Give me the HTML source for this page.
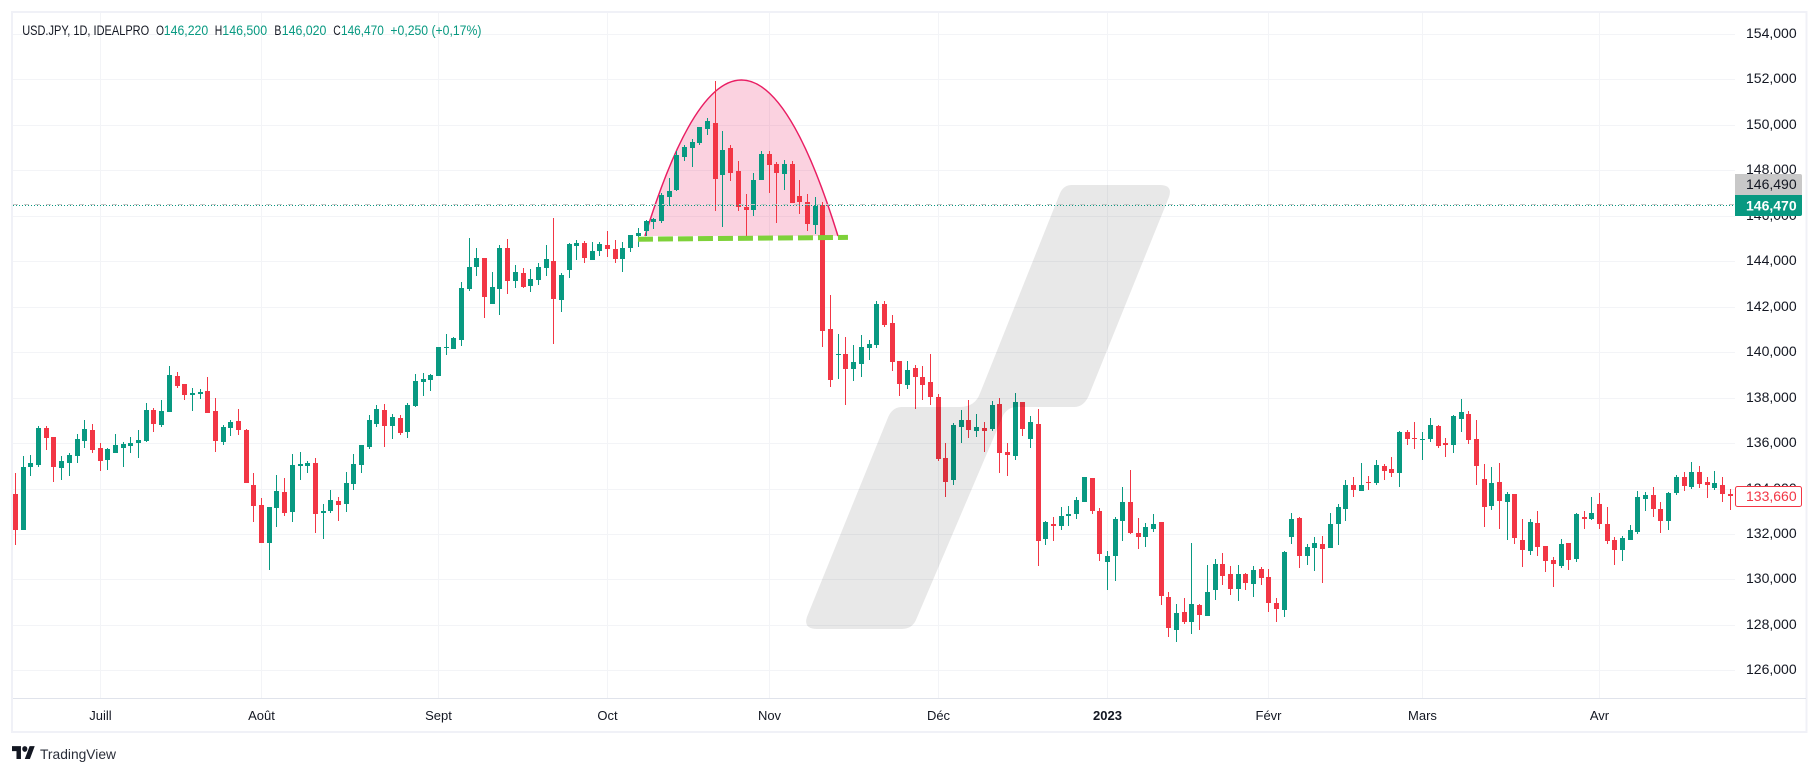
<!DOCTYPE html>
<html lang="fr">
<head>
<meta charset="utf-8">
<title>USD.JPY 1D chart</title>
<style>
html,body{margin:0;padding:0;background:#fff;width:1819px;height:774px;overflow:hidden}
svg{position:absolute;left:0;top:0;display:block;font-family:"Liberation Sans",sans-serif}
</style>
</head>
<body>
<svg id="chart" width="1819" height="774" viewBox="0 0 1819 774" xmlns="http://www.w3.org/2000/svg">
  <rect x="0" y="0" width="1819" height="774" fill="#ffffff"/>
  <g id="grid"></g>
  <g id="pattern"></g>
  <g id="candles"></g>
  <g id="watermark">
    <path fill="#000000" fill-opacity="0.09" d="M1072 185 L1160 185 Q1173 185 1169 197 L1088.3 396.7 Q1083.3 407 1074 407 L1016.7 407 Q1008.3 407 1003.3 415 L916.7 618.3 Q912.7 629 902 629 L817 629 Q803 629 807 616.7 L888.3 416.7 Q892.7 407 902 407 L960 407 Q975 407 980 393.3 L1060 193.3 Q1063.3 185 1072 185 Z"/>
  </g>
  <g id="overlays"></g>
  <rect x="12" y="12" width="1794.5" height="720" fill="none" stroke="#f0f1f7" stroke-width="2"/>
  <rect x="13" y="698" width="1793" height="1" fill="#e0e3eb"/>
  <g id="price-axis"></g>
  <g id="time-axis"></g>

  <g>
    <path d="M1735 174 H1800 Q1802 174 1802 176 V195 H1735 Z" fill="#c8c8c8"/>
    <text x="1746" y="189" font-size="14" fill="#131722">146,490</text>
    <path d="M1735 195 H1802 V214 Q1802 216 1800 216 H1735 Z" fill="#089981"/>
    <text x="1746" y="210.5" font-size="14" font-weight="bold" fill="#ffffff">146,470</text>
    <rect x="1735.5" y="486.5" width="66" height="20" rx="2" fill="#ffffff" stroke="#f23645" stroke-width="1"/>
    <text x="1746" y="501" font-size="14" fill="#f23645">133,660</text>
  </g>

  <g font-size="13.5">
    <text x="22.2" y="35" fill="#131722" textLength="127" lengthAdjust="spacingAndGlyphs">USD.JPY, 1D, IDEALPRO</text>
    <text x="156" y="35" fill="#131722" textLength="8" lengthAdjust="spacingAndGlyphs">O</text>
    <text x="163.8" y="35" fill="#089981" textLength="44.4" lengthAdjust="spacingAndGlyphs">146,220</text>
    <text x="214.7" y="35" fill="#131722" textLength="7.5" lengthAdjust="spacingAndGlyphs">H</text>
    <text x="222.3" y="35" fill="#089981" textLength="44.8" lengthAdjust="spacingAndGlyphs">146,500</text>
    <text x="274.4" y="35" fill="#131722" textLength="7" lengthAdjust="spacingAndGlyphs">B</text>
    <text x="281.7" y="35" fill="#089981" textLength="44.7" lengthAdjust="spacingAndGlyphs">146,020</text>
    <text x="333.3" y="35" fill="#131722" textLength="7.5" lengthAdjust="spacingAndGlyphs">C</text>
    <text x="341" y="35" fill="#089981" textLength="42.8" lengthAdjust="spacingAndGlyphs">146,470</text>
    <text x="390.4" y="35" fill="#089981" textLength="91" lengthAdjust="spacingAndGlyphs">+0,250 (+0,17%)</text>
  </g>

  <g>
    <g transform="translate(12 743.2) scale(0.64 0.72)" fill="#131722">
      <path d="M14 22H7V11H0V4h14v18z"/>
      <path d="M28 22h-8l7.5-18h8L28 22z"/>
      <circle cx="20" cy="8" r="4"/>
    </g>
    <text x="40" y="759" font-size="14" fill="#2a2e39" textLength="76" lengthAdjust="spacingAndGlyphs">TradingView</text>
  </g>
</svg>

<script>
const priceTicks = [154,152,150,148,146,144,142,140,138,136,134,132,130,128,126];
const priceTickLabels = ["154,000","152,000","150,000","148,000","146,000","144,000","142,000","140,000","138,000","136,000","134,000","132,000","130,000","128,000","126,000"];
const monthLabels = ["Juill","Août","Sept","Oct","Nov","Déc","2023","Févr","Mars","Avr"];
const monthBarIndexes = [11,32,55,77,98,120,142,163,183,206];
const lastClose = 146.47;
const previousClose = 146.49;
const domeBars = [81.86,94.4,106.96];
const domePrices = [145.11,158.84,145.11];
const trendBars = [80.95,108.26];
const trendPrices = [144.97,145.05];

const opens = [
133.76,132.17,134.95,135.03,136.66,136.27,134.90,135.12,135.43,136.09,
136.57,135.78,135.25,135.56,135.78,135.87,136.00,136.09,137.45,136.79,
137.37,138.95,138.60,138.11,138.16,138.29,137.41,136.05,136.66,136.97,
136.57,134.15,133.27,131.60,133.14,133.85,132.97,134.99,134.99,135.12,
132.92,133.01,133.45,133.32,134.20,135.03,135.83,136.84,137.45,136.75,
137.10,136.49,137.63,138.69,138.78,138.95,140.18,140.14,140.53,142.78,
143.75,144.14,142.12,142.78,144.58,143.13,143.48,142.91,143.18,143.70,
144.01,142.30,143.62,144.67,144.80,144.06,144.45,144.71,144.54,144.10,
144.58,145.11,145.33,145.73,145.77,146.83,147.14,148.59,148.98,149.20,
149.82,150.08,147.80,148.98,147.97,146.39,146.26,147.58,148.72,148.28,
147.84,148.28,146.87,146.61,145.60,146.48,141.02,139.87,139.92,139.26,
139.48,140.18,140.31,142.12,141.28,139.61,138.55,139.30,138.91,138.69,
138.03,135.34,134.37,136.71,137.01,136.53,136.66,136.62,137.72,135.61,
135.43,137.81,136.18,136.84,131.78,132.44,132.35,132.79,132.88,133.41,
134.46,133.01,130.77,131.03,132.57,133.41,132.04,131.87,132.22,132.53,
129.23,127.77,128.57,128.13,128.87,128.39,129.53,130.68,130.24,129.58,
130.24,129.80,130.46,130.10,128.96,128.65,131.87,132.70,131.03,131.38,
131.56,131.38,132.44,133.10,134.15,133.89,134.29,134.24,134.99,134.86,
134.68,136.49,136.22,136.13,136.18,136.75,136.00,135.91,137.06,137.28,
136.18,134.42,133.23,134.29,133.41,133.76,131.73,131.25,132.48,131.47,
130.85,130.59,131.60,130.90,132.75,132.66,133.32,132.44,131.73,131.29,
131.73,132.09,133.54,133.71,133.10,132.57,133.80,134.51,134.07,134.73,
134.29,134.02,134.15,133.76];

const highs = [
134.68,135.43,135.47,136.75,136.75,136.27,135.43,135.56,136.40,137.01,
136.84,136.00,135.78,136.40,136.05,136.27,136.57,137.76,137.54,137.89,
139.39,139.13,138.60,138.42,138.38,138.91,137.98,136.79,137.01,137.50,
136.62,134.68,133.58,133.19,134.59,134.46,135.52,135.61,135.21,135.34,
133.32,133.93,133.63,134.73,135.52,135.91,137.23,137.67,137.72,137.28,
137.23,137.76,139.04,139.08,139.04,140.23,140.80,140.67,143.09,145.02,
144.58,144.14,143.53,144.71,144.98,143.83,143.70,143.66,143.92,144.71,
145.90,143.48,144.80,144.94,144.89,144.85,144.85,145.33,144.94,144.85,
145.16,145.46,145.81,145.90,147.00,147.66,148.85,149.12,149.38,149.91,
150.30,151.93,149.73,149.12,148.41,146.96,147.88,148.85,148.85,148.37,
148.46,148.41,147.58,146.96,146.83,146.61,142.51,140.80,140.67,140.31,
140.75,140.53,142.25,142.25,141.63,139.61,139.61,139.43,139.39,139.92,
138.16,136.00,136.88,137.45,137.89,137.28,136.93,137.85,137.98,136.00,
138.20,137.81,137.19,137.50,132.57,132.75,133.19,133.23,133.63,134.51,
134.46,133.14,131.25,132.75,134.07,134.81,132.70,132.48,132.88,132.53,
129.45,128.92,129.18,131.60,128.92,130.63,130.90,131.16,130.59,130.63,
130.28,130.59,130.54,130.46,129.18,131.25,132.92,132.75,131.56,131.87,
131.91,132.92,133.32,134.37,134.51,135.12,134.55,135.25,135.08,135.39,
136.53,136.57,136.93,136.49,137.10,136.79,136.22,137.23,137.94,137.41,
137.01,135.08,134.95,135.12,133.85,133.76,132.66,132.66,133.01,131.47,
130.99,131.78,131.60,132.92,133.01,133.63,133.80,133.19,131.87,131.91,
132.39,133.89,133.85,134.07,133.41,133.85,134.59,134.73,135.17,134.99,
134.51,134.77,134.51,133.98];

const lows = [
131.51,132.17,134.55,134.95,135.69,134.29,134.37,134.55,135.12,135.78,
135.56,134.77,134.81,135.56,134.95,135.56,135.34,136.05,136.49,136.71,
137.37,138.42,137.89,137.41,137.94,137.32,135.61,135.91,136.31,136.35,
134.24,132.53,131.60,130.41,132.31,132.79,132.53,134.37,134.68,132.04,
131.78,132.92,132.57,132.97,133.93,134.68,135.74,136.71,135.83,136.18,
136.35,136.22,137.59,138.07,138.29,138.95,139.87,140.14,140.27,142.69,
143.35,141.50,142.12,141.63,142.56,142.82,142.82,142.65,142.96,143.35,
140.36,141.77,143.26,144.06,143.92,144.06,144.23,144.19,143.92,143.53,
144.41,144.63,145.11,145.42,145.68,146.43,147.09,148.41,148.15,149.12,
149.56,146.21,145.51,147.53,146.21,145.11,145.99,147.58,147.00,145.68,
147.14,146.56,146.08,145.33,145.20,140.23,138.47,138.82,137.67,138.73,
138.91,139.65,140.18,141.11,139.17,138.07,138.38,137.50,137.89,137.67,
135.21,133.63,134.15,136.00,136.22,136.27,135.61,136.53,134.68,134.55,
135.25,136.31,135.78,130.59,131.51,131.69,132.17,132.35,132.66,133.41,
132.88,130.81,129.53,129.93,131.69,132.00,131.34,131.43,132.09,128.87,
127.47,127.25,128.04,127.60,127.77,128.39,129.09,129.75,129.31,129.05,
129.53,129.23,129.75,128.57,128.13,128.35,131.56,130.50,130.63,130.37,
129.84,131.38,131.51,132.57,133.63,133.89,133.93,134.15,134.37,134.51,
134.07,135.91,135.74,135.25,136.05,135.78,135.39,135.56,136.49,135.96,
134.15,132.31,133.05,132.22,131.73,131.56,130.55,131.07,131.03,130.33,
129.67,130.50,130.41,130.77,132.22,132.61,132.22,131.56,130.63,130.81,
131.73,132.00,133.01,132.75,132.04,132.17,133.71,133.89,133.98,134.02,
133.58,133.93,133.41,133.05];

const closes = [
132.17,134.95,135.12,136.66,136.22,134.95,135.21,135.47,136.18,136.62,
135.69,135.21,135.74,135.91,135.96,136.00,136.13,137.45,136.84,137.41,
138.99,138.51,138.11,138.20,138.25,137.32,136.09,136.71,136.93,136.57,
134.24,133.23,131.60,133.19,133.89,132.92,135.03,135.09,135.12,132.88,
133.01,133.49,133.27,134.24,135.08,135.91,137.01,137.50,136.75,137.15,
136.44,137.67,138.73,138.82,138.99,140.23,140.23,140.62,142.82,143.75,
144.14,142.43,142.87,144.58,143.13,143.53,142.87,143.22,143.75,144.10,
142.34,143.40,144.76,144.80,144.14,144.45,144.76,144.54,144.10,144.58,
145.16,145.24,145.77,145.86,146.92,147.09,148.68,149.03,149.25,149.91,
150.17,147.62,148.90,147.88,146.39,146.26,147.58,148.72,148.24,147.88,
148.28,146.56,146.61,145.64,146.43,140.93,138.77,139.92,139.26,139.57,
140.23,140.36,142.12,141.19,139.57,138.60,139.21,138.91,138.55,138.03,
135.30,134.29,136.79,137.01,136.57,136.71,136.53,137.67,135.56,135.47,
137.81,136.62,136.93,131.69,132.53,132.35,132.79,132.88,133.49,134.51,
133.01,131.12,131.03,132.66,133.41,132.04,131.87,132.31,132.44,129.27,
127.86,128.52,128.13,128.92,128.43,129.45,130.68,130.15,129.58,130.24,
129.84,130.41,130.06,128.96,128.70,131.21,132.66,131.03,131.43,131.60,
131.34,132.44,133.19,134.15,133.93,134.15,134.24,135.03,134.77,134.68,
136.49,136.18,136.18,136.18,136.79,135.87,135.91,137.19,137.37,136.13,
134.99,133.19,134.24,133.45,133.76,131.82,131.29,132.53,131.43,130.81,
130.68,131.56,130.85,132.88,132.66,132.92,132.44,131.69,131.29,131.82,
132.17,133.63,133.71,133.10,132.57,133.80,134.51,134.11,134.73,134.20,
134.15,134.24,133.76,133.66];

const SVG_NS = 'http://www.w3.org/2000/svg';
const UP_COLOR = '#089981';
const DOWN_COLOR = '#f23645';

function barX(i) { return 15.55 + i * 7.689; }
function priceY(p) { return 34 + (154 - p) * 22.725; }

function make(tag, attrs, parent) {
  const el = document.createElementNS(SVG_NS, tag);
  for (const k in attrs) el.setAttribute(k, attrs[k]);
  parent.appendChild(el);
  return el;
}

const gridLayer = document.getElementById('grid');
const patternLayer = document.getElementById('pattern');
const candleLayer = document.getElementById('candles');
const overlayLayer = document.getElementById('overlays');
const priceAxisLayer = document.getElementById('price-axis');
const timeAxisLayer = document.getElementById('time-axis');

priceTicks.forEach(function (p, i) {
  const y = Math.round(priceY(p));
  const line = make('rect', {x: 13, y: y, width: 1722, height: 1, fill: '#f3f4f7'}, gridLayer);
  
  
  const label = make('text', {x: 1746, y: y + 4, 'font-size': 14, fill: '#131722'}, priceAxisLayer);
  label.textContent = priceTickLabels[i];
  
  
});

monthBarIndexes.forEach(function (idx, i) {
  const x = Math.round(barX(idx) - 0.5);
  const line = make('rect', {x: x, y: 13, width: 1, height: 685, fill: '#f3f4f7'}, gridLayer);
  
  
  const isYear = monthLabels[i] === '2023';
  const label = make('text', {x: x + 0.5, y: 720, 'font-size': 13, 'text-anchor': 'middle', fill: '#131722', 'font-weight': isYear ? 'bold' : 'normal'}, timeAxisLayer);
  label.textContent = monthLabels[i];
  
  
});

const domeX0 = barX(domeBars[0]), domeX1 = barX(domeBars[1]), domeX2 = barX(domeBars[2]);
const domeY0 = priceY(domePrices[0]), domeY1 = priceY(domePrices[1]), domeY2 = priceY(domePrices[2]);
const domePath = 'M' + domeX0 + ' ' + domeY0 + ' Q' + domeX1 + ' ' + domeY1 + ' ' + domeX2 + ' ' + domeY2;
const domeFill = make('path', {d: domePath + ' Z', fill: '#e91e63', 'fill-opacity': 0.2, stroke: 'none'}, patternLayer);


const domeStroke = make('path', {d: domePath, fill: 'none', stroke: '#e91e63', 'stroke-width': 1.5}, patternLayer);



opens.forEach(function (o, i) {
  const c = closes[i];
  const color = c >= o ? UP_COLOR : DOWN_COLOR;
  const wickLeft = Math.round(barX(i) - 0.5);
  const hiY = Math.round(priceY(highs[i]));
  const loY = Math.round(priceY(lows[i]));
  const topY = Math.round(priceY(Math.max(o, c)));
  const botY = Math.round(priceY(Math.min(o, c)));
  const wick = make('rect', {x: wickLeft, y: hiY, width: 1, height: Math.max(1, loY - hiY), fill: color}, candleLayer);
  
  
  const body = make('rect', {x: wickLeft - 2, y: topY, width: 5, height: Math.max(1, botY - topY), fill: color}, candleLayer);
  
  
});

const prevLine = make('line', {x1: 13, x2: 1735, y1: Math.round(priceY(previousClose)) - 0.5, y2: Math.round(priceY(previousClose)) - 0.5, stroke: '#c8c8c8', 'stroke-width': 1, 'stroke-dasharray': '5 6'}, overlayLayer);


const lastLine = make('line', {x1: 13, x2: 1735, y1: Math.round(priceY(lastClose)) + 0.5, y2: Math.round(priceY(lastClose)) + 0.5, stroke: UP_COLOR, 'stroke-width': 1, 'stroke-dasharray': '1 2'}, overlayLayer);


const trendLine = make('line', {x1: barX(trendBars[0]), y1: priceY(trendPrices[0]), x2: barX(trendBars[1]), y2: priceY(trendPrices[1]), stroke: '#7ed139', 'stroke-width': 5, 'stroke-dasharray': '15 5'}, overlayLayer);


</script>
</body>
</html>
